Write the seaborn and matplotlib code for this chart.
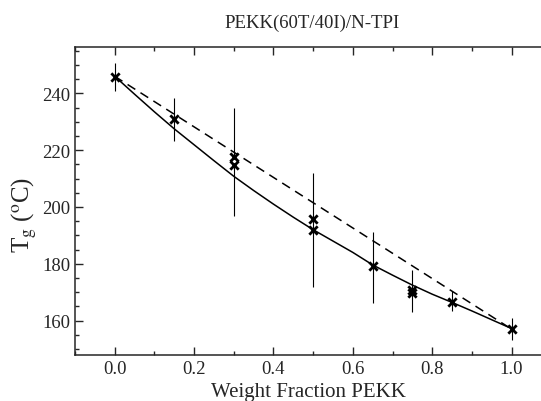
import seaborn as sns
import matplotlib.pyplot as plt
import pandas as pd
from matplotlib.ticker import MultipleLocator

# measured Tg points (x markers)
frac = [0.0, 0.15, 0.3, 0.3, 0.5, 0.5, 0.65, 0.75, 0.75, 0.85, 1.0]
tg = [245.8, 230.8, 217.6, 214.6, 195.8, 191.8, 179.2, 170.9, 169.8, 166.6, 157.1]

# open circle point at 0.3
circ_frac = [0.3]
circ_tg = [216.2]

# error bars (low / high ends)
bar_frac = [0.0, 0.15, 0.3, 0.5, 0.65, 0.75, 0.85, 1.0]
bar_lo = [240.7, 223.2, 196.9, 171.8, 166.1, 163.0, 163.4, 153.1]
bar_hi = [250.8, 238.3, 234.8, 212.0, 191.2, 177.7, 170.4, 161.0]

# solid fit curve
fit_frac = [0.0, 0.05, 0.1, 0.15, 0.2, 0.25, 0.3, 0.35, 0.4, 0.45, 0.5,
            0.55, 0.6, 0.65, 0.7, 0.75, 0.8, 0.85, 0.9, 0.95, 1.0]
fit_tg = [246.0, 239.7, 233.5, 227.5, 221.9, 216.3, 210.8, 205.8, 201.0, 196.4, 192.0,
          188.0, 184.0, 179.6, 176.0, 172.5, 169.3, 166.4, 163.4, 160.3, 157.2]

# dashed line (rule of mixtures)
lin_frac = [0.0, 1.0]
lin_tg = [246.0, 157.0]

sns.set_style("ticks")
plt.rcParams["font.family"] = ["Liberation Serif", "DejaVu Serif"]
plt.rcParams["mathtext.fontset"] = "stix"

fig = plt.figure(figsize=(5.41, 4.02), dpi=100)
ax = fig.add_axes([75 / 541, 1 - 356 / 402, 1 - 75 / 541, (356 - 48.3) / 402])

sns.lineplot(x=fit_frac, y=fit_tg, ax=ax, color="black", lw=1.1)
sns.lineplot(x=lin_frac, y=lin_tg, ax=ax, color="black", lw=1.1)
ax.lines[-1].set_dashes([6, 4])
ax.vlines(bar_frac, bar_lo, bar_hi, color="black", lw=0.8)
sns.scatterplot(x=frac, y=tg, ax=ax, marker="x", color="black", s=36, linewidth=2, zorder=5)
sns.scatterplot(x=circ_frac, y=circ_tg, ax=ax, marker="o", facecolor="white",
                edgecolor="black", s=18, linewidth=1, zorder=4)

ax.set_xlim(-0.1, 1.074)
ax.set_ylim(147.9, 256.2)
ax.xaxis.set_major_locator(MultipleLocator(0.2))
ax.xaxis.set_minor_locator(MultipleLocator(0.1))
ax.yaxis.set_major_locator(MultipleLocator(20))
ax.yaxis.set_minor_locator(MultipleLocator(5))
ax.xaxis.set_major_formatter(plt.FormatStrFormatter("%.1f"))
ax.tick_params(which="both", direction="in", top=True, right=False, labelsize=13.5, width=1)
ax.tick_params(which="major", length=6)
ax.tick_params(which="minor", length=3)
ax.spines["right"].set_visible(False)
for s in ["left", "top", "bottom"]:
    ax.spines[s].set_linewidth(1.1)

ax.set_xlabel("Weight Fraction PEKK", fontsize=15, labelpad=4)
fig.text(24 / 541, 1 - 215 / 402, r"T$_\mathrm{g}$ ($^\mathrm{o}$C)", rotation=90,
         ha="center", va="center", fontsize=18)
fig.text(312 / 541, 1 - 28.3 / 402, "PEKK(60T/40I)/N-TPI", ha="center", va="baseline",
         fontsize=13.5)

plt.savefig("out.png", dpi=100)
